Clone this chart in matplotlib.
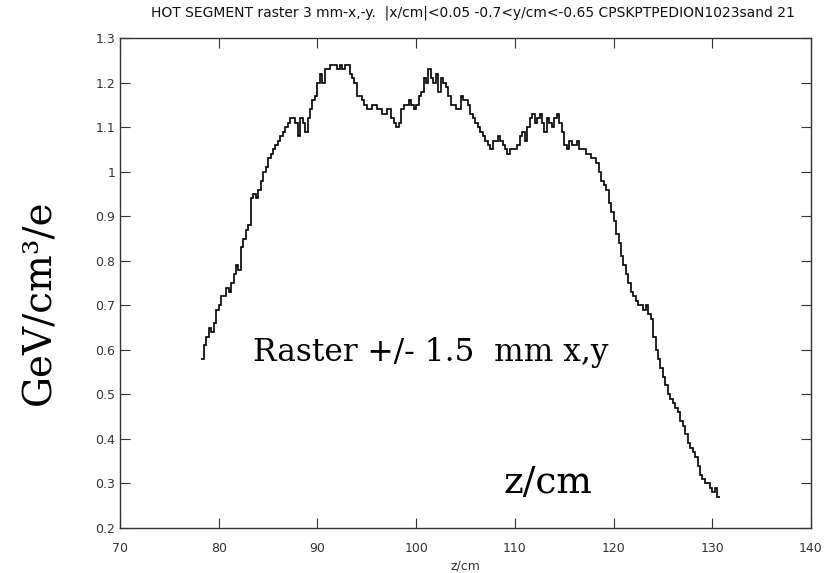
import numpy as np
import matplotlib.pyplot as plt

# histogram: bin width 0.25 cm, first bin starts at z = 78.25
z_start = 78.25
bin_w = 0.25
dens = [
    0.58, 0.61, 0.63, 0.65,
    0.64, 0.66, 0.69, 0.70,
    0.72, 0.72, 0.74, 0.73,
    0.75, 0.77, 0.79, 0.78,
    0.83, 0.85, 0.87, 0.88,
    0.94, 0.95, 0.94, 0.96,
    0.98, 1.00, 1.01, 1.03,
    1.04, 1.05, 1.06, 1.07,
    1.08, 1.09, 1.10, 1.11,
    1.12, 1.12, 1.11, 1.08,
    1.12, 1.11, 1.09, 1.12,
    1.14, 1.16, 1.17, 1.20,
    1.22, 1.20, 1.23, 1.23,
    1.24, 1.24, 1.24, 1.23,
    1.24, 1.23, 1.24, 1.24,
    1.22, 1.21, 1.20, 1.17,
    1.17, 1.16, 1.15, 1.14,
    1.14, 1.15, 1.15, 1.14,
    1.14, 1.13, 1.13, 1.14,
    1.14, 1.12, 1.11, 1.10,
    1.11, 1.14, 1.15, 1.15,
    1.16, 1.15, 1.14, 1.15,
    1.17, 1.18, 1.21, 1.20,
    1.23, 1.21, 1.20, 1.22,
    1.18, 1.21, 1.20, 1.19,
    1.17, 1.15, 1.15, 1.14,
    1.14, 1.17, 1.16, 1.16,
    1.15, 1.13, 1.12, 1.11,
    1.10, 1.09, 1.08, 1.07,
    1.06, 1.05, 1.07, 1.07,
    1.08, 1.07, 1.06, 1.05,
    1.04, 1.05, 1.05, 1.05,
    1.06, 1.08, 1.09, 1.07,
    1.10, 1.12, 1.13, 1.11,
    1.12, 1.13, 1.11, 1.09,
    1.12, 1.11, 1.10, 1.12,
    1.13, 1.11, 1.09, 1.06,
    1.05, 1.07, 1.06, 1.06,
    1.07, 1.05, 1.05, 1.05,
    1.04, 1.04, 1.03, 1.03,
    1.02, 1.00, 0.98, 0.97,
    0.96, 0.93, 0.91, 0.89,
    0.86, 0.84, 0.81, 0.79,
    0.77, 0.75, 0.73, 0.72,
    0.71, 0.70, 0.70, 0.69,
    0.70, 0.68, 0.67, 0.63,
    0.60, 0.58, 0.56, 0.54,
    0.52, 0.50, 0.49, 0.48,
    0.47, 0.46, 0.44, 0.43,
    0.41, 0.39, 0.38, 0.37,
    0.36, 0.34, 0.32, 0.31,
    0.30, 0.30, 0.29, 0.28,
    0.29, 0.27,
]

x_ticks = [70, 80, 90, 100, 110, 120, 130, 140]
y_ticks = [0.2, 0.3, 0.4, 0.5, 0.6, 0.7, 0.8, 0.9, 1.0, 1.1, 1.2, 1.3]
y_tick_labels = ["0.2", "0.3", "0.4", "0.5", "0.6", "0.7", "0.8", "0.9", "1", "1.1", "1.2", "1.3"]

edges = z_start + bin_w*np.arange(len(dens) + 1)

fig = plt.figure(figsize=(8.32, 5.73), dpi=100)
ax = fig.add_axes([0.1442, 0.0785, 0.8306, 0.855])
ax.stairs(dens, edges, color='k', linewidth=1.2, baseline=None)

ax.set_xlim(70, 140)
ax.set_ylim(0.2, 1.3)
ax.set_xticks(x_ticks)
ax.set_yticks(y_ticks)
ax.set_yticklabels(y_tick_labels)
ax.tick_params(direction='in', top=True, right=True, length=7, labelsize=9, colors='#333333')
ax.tick_params(axis='x', pad=10)
for sp in ax.spines.values():
    sp.set_color('#333333')
    sp.set_linewidth(1.0)

ax.set_xlabel('z/cm', fontsize=9, color='#333333', labelpad=3)
fig.text(0.568, 0.978,
         'HOT SEGMENT raster 3 mm-x,-y.  |x/cm|<0.05 -0.7<y/cm<-0.65 CPSKPTPEDION1023sand 21',
         ha='center', va='center', fontsize=10, color='#111111')

serif = ['DejaVu Serif']
fig.text(0.048, 0.473, 'GeV/cm³/e', rotation=90, ha='center', va='center',
         fontsize=28, family=serif)
ax.text(101.5, 0.593, 'Raster +/- 1.5  mm x,y', ha='center', va='center',
        fontsize=22.5, family=serif)
ax.text(113.4, 0.30, 'z/cm', ha='center', va='center', fontsize=27, family=serif)

fig.savefig('out.png', dpi=100)
